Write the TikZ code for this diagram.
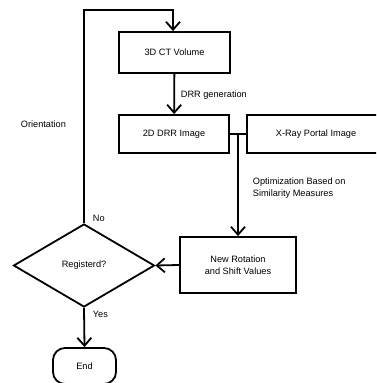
\documentclass[tikz,border=0pt]{standalone}
\usepackage{fontspec}
\setmainfont{Liberation Sans}
\usetikzlibrary{arrows.meta,shapes.geometric}
\begin{document}
\begin{tikzpicture}[x=1pt,y=-1pt,
  line width=1.8pt,
  font=\fontsize{9.2}{12}\selectfont,
  box/.style={draw,rectangle,inner sep=0pt,align=center},
  arr/.style={-{Straight Barb[length=8pt,width=14pt,line width=1.8pt]}},
  lbl/.style={inner sep=0pt,anchor=west,align=left}]
\useasboundingbox (0,0) rectangle (376,383);
\clip (0,0) rectangle (376,383);
\node[box,minimum width=111pt,minimum height=41pt] (ct) at (174.5,52.5) {3D CT Volume};
\node[box,minimum width=110pt,minimum height=38pt] (drr) at (174,134) {2D DRR Image};
\node[box,minimum width=138pt,minimum height=38pt] (xray) at (316,134) {X-Ray Portal Image};
\node[box,minimum width=116pt,minimum height=56pt] (rot) at (238,265) {New Rotation\\and Shift Values};
\node[draw,diamond,inner sep=0pt,minimum width=141pt,minimum height=83pt,aspect=1.7] (reg) at (84,265.5) {Registerd?};
\node[draw,rectangle,rounded corners=12pt,minimum width=63pt,minimum height=36pt] (end) at (84.5,366) {End};
\coordinate (j) at (238,134);
\coordinate (tl) at (84,10);
\coordinate (tr) at (173,10);
\draw[arr] (ct) -- (drr);
\draw (drr.east) -- (xray.west);
\draw[arr] (j) -- (rot.north);
\draw[arr] (rot.west) -- (reg.east);
\draw[arr] (reg.north) -- (tl) -- (tr) -- (ct.north -| tr);
\draw[arr] (reg.south) -- (end.north);
\node[lbl] (l1) at (180,95) {DRR generation};
\node[lbl] (l2) at (20,124) {Orientation};
\node[lbl,align=left] (l3) at (252,188.5) {Optimization Based on\\Similarity Measures};
\node[lbl] (l4) at (92,218) {No};
\node[lbl] (l5) at (92,314) {Yes};
\end{tikzpicture}
\end{document}
